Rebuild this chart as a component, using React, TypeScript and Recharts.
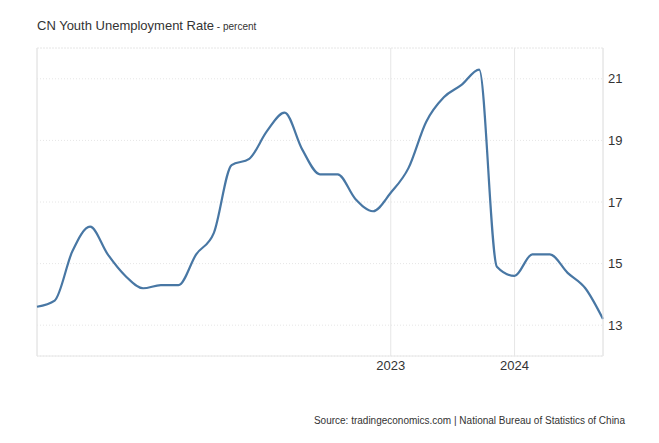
import {
  CartesianGrid,
  Line,
  LineChart,
  ReferenceLine,
  XAxis,
  YAxis,
} from "recharts";

// months with a published reading (Jan 2022 and Jul-Nov 2023 missing)
const months = [
  "2021-04", "2021-05", "2021-06", "2021-07", "2021-08", "2021-09",
  "2021-10", "2021-11", "2021-12", "2022-02", "2022-03", "2022-04",
  "2022-05", "2022-06", "2022-07", "2022-08", "2022-09", "2022-10",
  "2022-11", "2022-12", "2023-01", "2023-02", "2023-03", "2023-04",
  "2023-05", "2023-06", "2023-12", "2024-01", "2024-02", "2024-03",
  "2024-04", "2024-05", "2024-06",
];

const rates = [
  13.6, 13.8, 15.4, 16.2, 15.3, 14.6,
  14.2, 14.3, 14.3, 15.3, 16.0, 18.2,
  18.4, 19.3, 19.9, 18.7, 17.9, 17.9,
  17.1, 16.7, 17.3, 18.1, 19.6, 20.4,
  20.8, 21.3, 14.9, 14.6, 15.3, 15.3,
  14.7, 14.2, 13.2,
];

const xTicks = ["2023-01", "2024-01"];
const yTicks = [13, 15, 17, 19, 21];

const data = months.map((m, i) => ({ month: m, rate: rates[i] }));

const GRID = "#e6e6e6";
const LINE = "#4877a4";
const TEXT = "#333";

export default function App() {
  return (
    <div
      style={{
        position: "absolute",
        left: 0,
        top: 0,
        width: 659,
        height: 443,
        background: "#fff",
        fontFamily: "Arial, 'Liberation Sans', sans-serif",
        color: TEXT,
      }}
    >
      <div style={{ position: "absolute", left: 37, top: 18, fontSize: 13, whiteSpace: "nowrap" }}>
        CN Youth Unemployment Rate
        <span style={{ fontSize: 10 }}> - percent</span>
      </div>
      <LineChart
        width={659}
        height={443}
        data={data}
        margin={{ top: 48, right: 16, left: 37, bottom: 57 }}
      >
        <CartesianGrid vertical={false} stroke={GRID} strokeDasharray="1 2" />
        <CartesianGrid horizontal={false} stroke={GRID} />
        <ReferenceLine y={22} stroke={GRID} strokeDasharray="1 2" />
        <ReferenceLine x={months[0]} stroke={GRID} />
        <XAxis
          dataKey="month"
          ticks={xTicks}
          interval={0}
          tickFormatter={(v: string) => v.slice(0, 4)}
          axisLine={{ stroke: GRID }}
          tickLine={false}
          tickSize={0}
          tickMargin={5}
          height={30}
          tick={{ fill: TEXT, fontSize: 13 }}
        />
        <YAxis
          orientation="right"
          domain={[12, 22]}
          ticks={yTicks}
          axisLine={{ stroke: GRID }}
          tickLine={false}
          tickSize={0}
          tickMargin={5}
          width={40}
          tick={{ fill: TEXT, fontSize: 13, textAnchor: "start" }}
        />
        <Line
          type="monotone"
          dataKey="rate"
          stroke={LINE}
          strokeWidth={2.2}
          dot={false}
          isAnimationActive={false}
        />
      </LineChart>
      <div
        style={{
          position: "absolute",
          right: 34,
          top: 415,
          fontSize: 10,
          whiteSpace: "nowrap",
        }}
      >
        Source: tradingeconomics.com | National Bureau of Statistics of China
      </div>
    </div>
  );
}
